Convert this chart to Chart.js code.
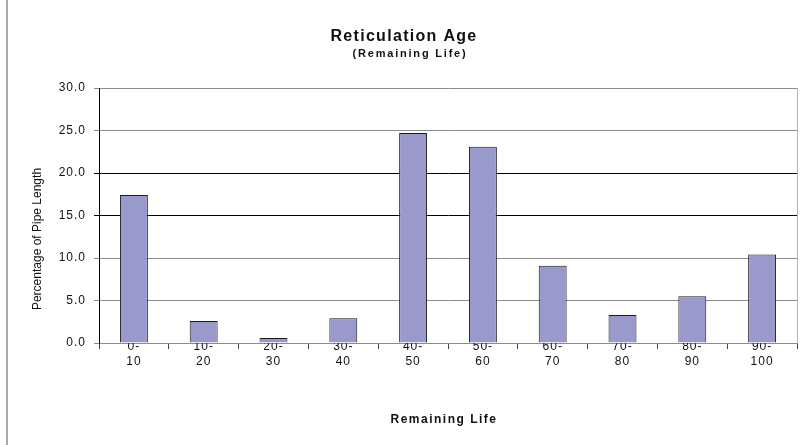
<!DOCTYPE html>
<html>
<head>
<meta charset="utf-8">
<script src="https://cdn.jsdelivr.net/npm/chart.js@4/dist/chart.umd.min.js"></script>
<style>
  html, body { margin: 0; padding: 0; background: #fff; }
  canvas { display: block; }
</style>
</head>
<body>
<canvas id="chart" width="800" height="445"></canvas>
<script>
// Remaining-life bands (years), shown as two-line tick labels
const ageBands = [
  ["0-", "10"], ["10-", "20"], ["20-", "30"], ["30-", "40"], ["40-", "50"],
  ["50-", "60"], ["60-", "70"], ["70-", "80"], ["80-", "90"], ["90-", "100"]
];
// Share of total pipe length in each band (%)
const pipeLengthPct = [17.4, 2.6, 0.6, 2.9, 24.7, 23.1, 9.1, 3.3, 5.5, 10.4];
// Value-axis ticks
const yTicks = [0, 5, 10, 15, 20, 25, 30];

const chartTitle = "Reticulation Age";
const chartSubtitle = "(Remaining Life)";
const xTitle = "Remaining Life";
const yTitle = "Percentage of Pipe Length";

const FONT = '"Liberation Sans", Arial, sans-serif';
Chart.defaults.font.family = FONT;
Chart.defaults.color = "#111";

// Frame line, plot border and the chart / axis titles
const decor = {
  id: "decor",
  beforeDraw(chart) {
    const ctx = chart.ctx;
    ctx.save();
    ctx.strokeStyle = "#a8a8a8";
    ctx.lineWidth = 2;
    ctx.beginPath();
    ctx.moveTo(7, 0);
    ctx.lineTo(7, chart.height);
    ctx.stroke();
    ctx.restore();
    ctx.letterSpacing = "1px";
  },
  afterDraw(chart) {
    const ctx = chart.ctx;
    const a = chart.chartArea;
    ctx.letterSpacing = "0px";
    ctx.save();
    ctx.strokeStyle = "#b4b4b4";
    ctx.lineWidth = 1;
    ctx.beginPath();
    ctx.moveTo(Math.round(a.right) + 0.5, a.top);
    ctx.lineTo(Math.round(a.right) + 0.5, a.bottom);
    ctx.stroke();

    ctx.fillStyle = "#111";
    ctx.textAlign = "center";
    ctx.textBaseline = "alphabetic";

    ctx.font = "bold 16px " + FONT;
    ctx.letterSpacing = "1.3px";
    ctx.fillText(chartTitle, 404, 41);

    ctx.font = "bold 11px " + FONT;
    ctx.letterSpacing = "1.8px";
    ctx.fillText(chartSubtitle, 410, 57);

    ctx.font = "bold 12px " + FONT;
    ctx.letterSpacing = "1.5px";
    ctx.fillText(xTitle, 444, 423);

    ctx.font = "12px " + FONT;
    ctx.letterSpacing = "0px";
    ctx.translate(41, 239);
    ctx.rotate(-Math.PI / 2);
    ctx.fillText(yTitle, 0, 0);
    ctx.restore();
  }
};

new Chart(document.getElementById("chart"), {
  type: "bar",
  data: {
    labels: ageBands,
    datasets: [{
      data: pipeLengthPct,
      backgroundColor: "#9999cc",
      borderColor: "#1a1a1a",
      borderWidth: 1,
      categoryPercentage: 0.8,
      barPercentage: 0.5
    }]
  },
  options: {
    responsive: false,
    animation: false,
    devicePixelRatio: 1,
    layout: { padding: { top: 88, right: 3, bottom: 0, left: 0 } },
    plugins: {
      legend: { display: false },
      tooltip: { enabled: false },
      title: { display: false }
    },
    scales: {
      x: {
        grid: {
          offset: true,
          drawOnChartArea: false,
          drawTicks: true,
          tickLength: 6,
          color: "#444"
        },
        border: { color: "#8c8c8c", width: 1 },
        ticks: {
          autoSkip: false,
          maxRotation: 0,
          minRotation: 0,
          padding: -10,
          color: "#111",
          font: { size: 12, lineHeight: 1.25 }
        },
        afterFit(scale) { scale.height = 102; }
      },
      y: {
        min: 0,
        max: 30,
        afterBuildTicks(scale) {
          scale.ticks = yTicks.map(v => ({ value: v }));
        },
        grid: {
          tickLength: 5,
          color: (c) => (c.tick && (c.tick.value === 15 || c.tick.value === 20)) ? "#000" : "#8c8c8c"
        },
        border: { color: "#000", width: 1 },
        ticks: {
          padding: 8,
          color: "#111",
          font: { size: 12 },
          callback: (v) => Number(v).toFixed(1)
        },
        afterFit(scale) { scale.width = 99; }
      }
    }
  },
  plugins: [decor]
});
</script>
</body>
</html>
